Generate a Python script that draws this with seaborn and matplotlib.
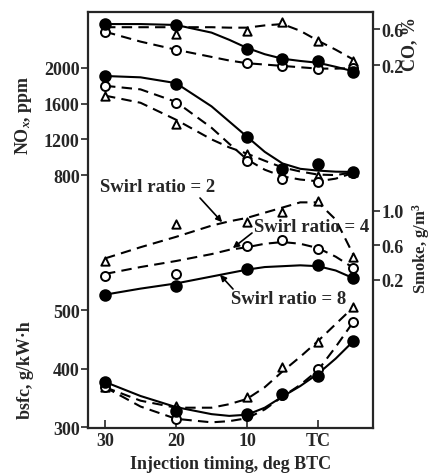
import numpy as np
import matplotlib
matplotlib.use("Agg")
import matplotlib.pyplot as plt
import seaborn as sns

# injection timing of the measured points, deg BTC (0 = TC, -5 = 5 deg ATC)
timing = [30, 20, 10, 5, 0, -5]
timing_smoke_sr8 = [30, 20, 10, 0, -5]
curve_timing = [30, 25, 20, 15, 12.5, 10, 7.5, 5, 2.5, 0, -2.5, -5]

# CO, %  (sr = swirl ratio)
co_sr8 = [0.655, 0.645, 0.38, 0.27, 0.245, 0.12]
co_sr4 = [0.57, 0.37, 0.22, 0.19, 0.155, 0.165]
co_sr2 = [0.61, 0.545, 0.58, 0.68, 0.47, 0.24]
co_sr8_curve = [0.655, 0.655, 0.645, 0.56, 0.48, 0.39, 0.32, 0.27, 0.245, 0.225, 0.18, 0.13]
co_sr4_curve = [0.57, 0.46, 0.37, 0.29, 0.25, 0.22, 0.205, 0.19, 0.175, 0.16, 0.16, 0.165]
co_sr2_curve = [0.62, 0.62, 0.62, 0.62, 0.615, 0.615, 0.64, 0.655, 0.58, 0.47, 0.37, 0.26]

# NOx, ppm
nox_sr8 = [1910, 1820, 1227, 870, 925, 835]
nox_sr4 = [1800, 1610, 960, 757, 723, 825]
nox_sr2 = [1690, 1370, 1040, 880, 795, 830]
nox_sr8_curve = [1910, 1895, 1830, 1570, 1400, 1230, 1060, 930, 870, 850, 838, 835]
nox_sr4_curve = [1800, 1760, 1620, 1330, 1150, 975, 860, 785, 750, 730, 760, 825]
nox_sr2_curve = [1690, 1610, 1420, 1200, 1110, 1040, 960, 885, 840, 805, 800, 830]

# smoke, g/m3
smoke_sr8 = [0.03, 0.13, 0.33, 0.37, 0.22]
smoke_sr4 = [0.25, 0.27, 0.59, 0.66, 0.56, 0.34]
smoke_sr2 = [0.42, 0.85, 0.87, 0.99, 1.12, 0.47]
smoke_sr8_curve = [0.03, 0.10, 0.16, 0.24, 0.28, 0.32, 0.35, 0.36, 0.37, 0.36, 0.31, 0.22]
smoke_sr4_curve = [0.27, 0.35, 0.42, 0.50, 0.55, 0.58, 0.62, 0.64, 0.62, 0.57, 0.47, 0.34]
smoke_sr2_curve = [0.45, 0.58, 0.70, 0.83, 0.88, 0.92, 0.98, 1.04, 1.10, 1.10, 0.90, 0.49]

# bsfc, g/kW.h
bsfc_sr8 = [377, 327, 322, 356, 387, 447]
bsfc_sr4 = [368, 314, 318, 355, 399, 480]
bsfc_sr2 = [368, 336, 351, 403, 445, 505]
bsfc_sr8_curve = [377, 353, 334, 322, 319, 321, 333, 352, 370, 391, 417, 447]
bsfc_sr4_curve = [368, 335, 314, 308, 310, 315, 330, 352, 372, 397, 437, 480]
bsfc_sr2_curve = [368, 345, 333, 333, 339, 348, 368, 395, 420, 447, 476, 505]

x_ticks = [30, 20, 10, 0]
x_ticklabels = ["30", "20", "10", "TC"]

sns.set_style("ticks")
plt.rcParams["font.family"] = ["Liberation Serif", "DejaVu Serif"]
plt.rcParams["font.weight"] = "bold"
plt.rcParams["axes.labelweight"] = "bold"
plt.rcParams["mathtext.fontset"] = "custom"
plt.rcParams["mathtext.rm"] = "Liberation Serif:bold"
plt.rcParams["mathtext.it"] = "Liberation Serif:italic:bold"

FS = 13
W, H = 433, 477
fig = plt.figure(figsize=(W / 100, H / 100), dpi=100)
box = [88 / W, 1 - 429 / H, (373 - 88) / W, (429 - 13) / H]

frame = fig.add_axes(box)
frame.set_xlim(32.4, -7.75)
frame.set_ylim(0, 1)
frame.set_yticks([])
frame.set_xticks(x_ticks)
frame.set_xticklabels(x_ticklabels)
frame.tick_params(axis="x", direction="in", length=6, width=1.2, labelsize=FS, pad=3)
for s in frame.spines.values():
    s.set_linewidth(1.6)
frame.set_xlabel("Injection timing, deg BTC", fontsize=FS, labelpad=4)


def panel(side, ylim, ticks, labels):
    ax = fig.add_axes(box, sharex=frame)
    ax.patch.set_visible(False)
    for s in ax.spines.values():
        s.set_visible(False)
    ax.set_ylim(*ylim)
    ax.set_yticks(ticks)
    ax.set_yticklabels(labels)
    ax.tick_params(axis="x", bottom=False, labelbottom=False)
    if side == "right":
        ax.yaxis.tick_right()
    ax.tick_params(axis="y", direction="out", length=5, width=1.2, labelsize=FS, pad=1)
    return ax


def draw(ax, x_pts, y_pts, y_curve, kind):
    if kind == "filled":
        ls, marker, face, size = "-", "o", "black", 58
    elif kind == "open":
        ls, marker, face, size = (0, (5, 3)), "o", "white", 42
    else:
        ls, marker, face, size = (0, (5, 3)), "^", "white", 36
    sns.lineplot(x=curve_timing, y=y_curve, ax=ax, color="black", lw=1.5,
                 linestyle=ls, sort=False, estimator=None)
    sns.scatterplot(x=x_pts, y=y_pts, ax=ax, marker=marker, s=size, color=face,
                    edgecolor="black", linewidth=1.4, zorder=3)


ax_co = panel("right", (-3.833, 0.789), [0.2, 0.6], ["0.2", "0.6"])
ax_nox = panel("left", (-2034, 2627), [800, 1200, 1600, 2000], ["800", "1200", "1600", "2000"])
ax_smoke = panel("right", (-1.516, 3.307), [0.2, 0.6, 1.0], ["0.2", "0.6", "1.0"])
ax_bsfc = panel("left", (298.3, 1009.4), [300, 400, 500], ["300", "400", "500"])

draw(ax_co, timing, co_sr2, co_sr2_curve, "tri")
draw(ax_co, timing, co_sr4, co_sr4_curve, "open")
draw(ax_co, timing, co_sr8, co_sr8_curve, "filled")

draw(ax_nox, timing, nox_sr2, nox_sr2_curve, "tri")
draw(ax_nox, timing, nox_sr4, nox_sr4_curve, "open")
draw(ax_nox, timing, nox_sr8, nox_sr8_curve, "filled")

draw(ax_smoke, timing, smoke_sr2, smoke_sr2_curve, "tri")
draw(ax_smoke, timing, smoke_sr4, smoke_sr4_curve, "open")
draw(ax_smoke, timing_smoke_sr8, smoke_sr8, smoke_sr8_curve, "filled")

draw(ax_bsfc, timing, bsfc_sr2, bsfc_sr2_curve, "tri")
draw(ax_bsfc, timing, bsfc_sr4, bsfc_sr4_curve, "open")
draw(ax_bsfc, timing, bsfc_sr8, bsfc_sr8_curve, "filled")

for ax in (ax_co, ax_nox, ax_smoke, ax_bsfc):
    ax.set_xlabel("")
    ax.set_ylabel("")

arrow = dict(arrowstyle="-|>", lw=1.2, color="black", mutation_scale=9,
             shrinkA=0, shrinkB=0)
ax_smoke.annotate("", xy=(13.5, 0.87), xytext=(200, H - 199),
                  textcoords="figure pixels", arrowprops=arrow)
ax_smoke.annotate("", xy=(12.0, 0.57), xytext=(252, H - 234),
                  textcoords="figure pixels", arrowprops=arrow)
ax_smoke.annotate("", xy=(13.8, 0.26), xytext=(233, H - 290),
                  textcoords="figure pixels", arrowprops=arrow)
fig.text(100 / W, 1 - 187 / H, "Swirl ratio = 2", ha="left", va="center", fontsize=FS + 0.5)
fig.text(254 / W, 1 - 228 / H, "Swirl ratio = 4", ha="left", va="center", fontsize=FS + 0.5)
fig.text(231 / W, 1 - 300 / H, "Swirl ratio = 8", ha="left", va="center", fontsize=FS + 0.5)

fig.text(24 / W, 1 - 115 / H, r"NO$_x$, ppm", rotation=90, ha="center", va="center", fontsize=FS)
fig.text(26 / W, 1 - 370 / H, "bsfc, g/kW·h", rotation=90, ha="center", va="center", fontsize=FS)
fig.text(410 / W, 1 - 44 / H, "CO, %", rotation=90, ha="center", va="center", fontsize=FS)
fig.text(421 / W, 1 - 249 / H, r"Smoke, g/m$^3$", rotation=90, ha="center", va="center", fontsize=FS - 1)

fig.savefig("out.png", dpi=100)
